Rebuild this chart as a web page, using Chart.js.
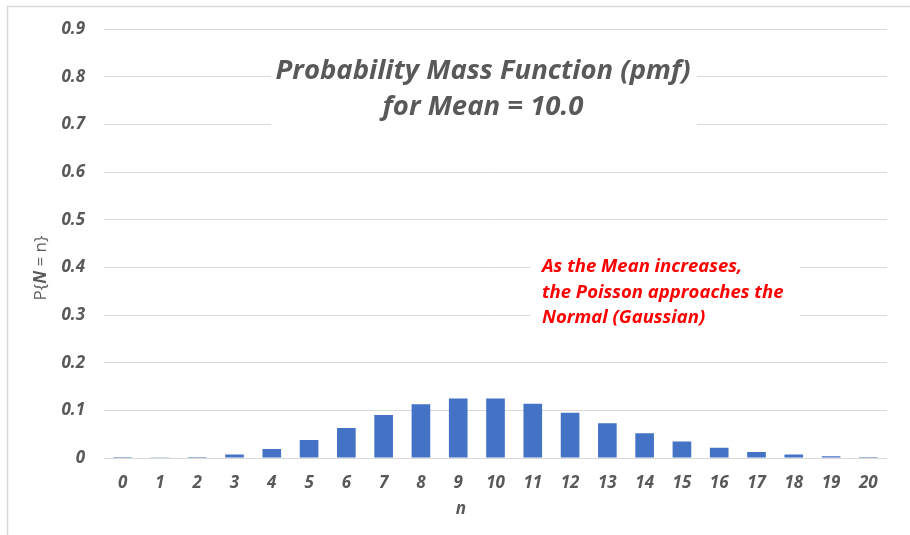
<!DOCTYPE html>
<html>
<head>
<meta charset="utf-8">
<script src="https://cdn.jsdelivr.net/npm/chart.js@4.4.1/dist/chart.umd.min.js"></script>
<style>
  html, body { margin: 0; padding: 0; background: #fff; }
  #wrap { width: 910px; height: 535px; position: relative; }
</style>
</head>
<body>
<div id="wrap"><canvas id="pmfChart" width="910" height="535"></canvas></div>
<script>
// Poisson pmf, mean = 10
const nValues = ["0", "1", "2", "3", "4", "5", "6", "7", "8", "9", "10",
                 "11", "12", "13", "14", "15", "16", "17", "18", "19", "20"];
const pmf = [0.00005, 0.0005, 0.0023, 0.0076, 0.0189, 0.0378, 0.0631, 0.0901,
             0.1126, 0.1251, 0.1251, 0.1137, 0.0948, 0.0729, 0.0521, 0.0347,
             0.0217, 0.0128, 0.0071, 0.0037, 0.0019];
const yMax = 0.9;
const yStep = 0.1;
const titleLines = ["Probability Mass Function (pmf)", "for Mean = 10.0"];
const noteLines = ["As the Mean increases,", "the Poisson approaches the", "Normal (Gaussian)"];

const grey = "#595959";
const fontFam = "'Open Sans', Lato, sans-serif";

// frame, title box, note box and the axis titles
const decorations = {
  id: "decorations",
  beforeDraw(chart) {
    const c = chart.ctx;
    c.save();
    c.fillStyle = "#fff";
    c.fillRect(0, 0, chart.width, chart.height);
    c.strokeStyle = "#d9d9d9";
    c.lineWidth = 1.5;
    c.strokeRect(7.5, 6.5, chart.width + 10, chart.height + 10);
    c.restore();
  },
  afterDraw(chart) {
    const c = chart.ctx;
    c.save();

    // title over the grid
    c.fillStyle = "#fff";
    c.fillRect(271, 45, 426, 86);
    c.fillStyle = grey;
    c.font = "italic bold 27.5px " + fontFam;
    c.textAlign = "center";
    c.textBaseline = "middle";
    c.fillText(titleLines[0], 483, 71);
    c.fillText(titleLines[1], 483, 107);

    // red note
    c.fillStyle = "#fff";
    c.fillRect(530, 250, 270, 82);
    c.fillStyle = "#ff0000";
    c.font = "italic bold 18.5px " + fontFam;
    c.textAlign = "left";
    noteLines.forEach((t, i) => c.fillText(t, 542, 267 + i * 25.5));

    // x axis title
    c.fillStyle = grey;
    c.font = "italic bold 17px " + fontFam;
    c.textAlign = "center";
    c.fillText("n", 461, 509);

    // y axis title: P{N = n} with N in bold italic
    c.translate(41, 268);
    c.rotate(-Math.PI / 2);
    const parts = [
      ["P{", "17px " + fontFam],
      ["N", "italic bold 17px " + fontFam],
      [" = n}", "17px " + fontFam]
    ];
    let total = 0;
    parts.forEach(p => { c.font = p[1]; total += c.measureText(p[0]).width; });
    let x = -total / 2;
    c.textAlign = "left";
    parts.forEach(p => {
      c.font = p[1];
      c.fillText(p[0], x, 0);
      x += c.measureText(p[0]).width;
    });
    c.restore();
  }
};

new Chart(document.getElementById("pmfChart"), {
  type: "bar",
  data: {
    labels: nValues,
    datasets: [{
      label: "P{N = n}",
      data: pmf,
      backgroundColor: "#4472c4",
      barPercentage: 0.5,
      categoryPercentage: 1.0
    }]
  },
  options: {
    responsive: false,
    animation: false,
    layout: { padding: { top: 29, right: 23, left: 0, bottom: 0 } },
    plugins: {
      legend: { display: false },
      tooltip: { enabled: false }
    },
    scales: {
      x: {
        grid: { display: false, drawTicks: false },
        border: { display: false },
        ticks: {
          color: grey,
          padding: 15,
          maxRotation: 0,
          font: { size: 17, style: "italic", weight: "bold", family: fontFam }
        },
        afterFit(scale) { scale.height = 77; }
      },
      y: {
        min: 0,
        max: yMax,
        grid: { color: "#d9d9d9", lineWidth: 1, drawTicks: false },
        border: { display: false },
        ticks: {
          stepSize: yStep,
          color: grey,
          padding: 19,
          font: { size: 17, style: "italic", weight: "bold", family: fontFam },
          callback: v => (v === 0 ? "0" : v.toFixed(1))
        },
        afterFit(scale) { scale.width = 104; }
      }
    }
  },
  plugins: [decorations]
});
</script>
</body>
</html>
